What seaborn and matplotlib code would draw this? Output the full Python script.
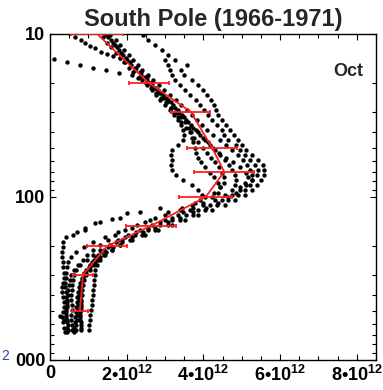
import numpy as np
import pandas as pd
import matplotlib
matplotlib.use("Agg")
import matplotlib.pyplot as plt
import seaborn as sns
from matplotlib.ticker import NullFormatter, MultipleLocator

nan = np.nan

# ---- data (ozone number density in units of 1e12, pressure in hPa) ----
levels_a = [10.1, 10.9, 11.7, 12.5, 13.5, 14.4, 15.5, 16.6, 17.8, 19.2,
            20.6, 22.1, 23.7, 25.4, 27.3, 29.3, 31.4, 33.7, 36.2, 38.8,
            41.7, 44.7, 48.0, 51.5, 55.3, 59.3, 63.6, 68.3, 73.3, 78.7,
            84.4, 90.6, 97.2, 104.3, 112, 120, 129, 138, 149, 159,
            171, 184, 197, 211, 227, 244, 261, 281, 301, 323,
            347, 372, 399, 428, 460, 493, 530, 568, 610, 655]
levels_b = [10.5, 11.3, 12.1, 13.0, 14.0, 14.9, 16.1, 17.2, 18.4, 19.9,
            21.3, 22.9, 24.6, 26.3, 28.3, 30.4, 32.5, 34.9, 37.5, 40.2,
            43.2, 46.3, 49.7, 53.4, 57.3, 61.4, 65.9, 70.8, 75.9, 81.5,
            87.4, 93.9, 100.7, 108.1, 116, 124, 134, 143, 154, 165,
            177, 190, 204, 219, 235, 252, 270, 291, 312, 335,
            359, 385, 413, 443, 476, 511, 548, 588, 632, 678]

sonde1 = [1.46, 1.59, 1.70, 1.80, 1.91, 2.01, 2.12, 2.22, 2.38, 2.53,
          2.66, 2.82, 2.95, 3.08, 3.21, 3.34, 3.45, 3.55, 3.68, 3.81,
          3.92, 4.05, 4.18, 4.31, 4.44, 4.57, 4.67, 4.75, 4.83, 4.86,
          4.83, 4.75, 4.57, 4.31, 3.99, 3.66, 3.34, 3.00, 2.66, 2.35,
          2.04, 1.78, 1.57, 1.41, 1.25, 1.15, 1.04, 0.94, 0.89, 0.84,
          0.81, 0.78, 0.76, 0.76, 0.73, 0.73, 0.70, 0.70, 0.68, 0.68]
sonde2 = [1.57, 1.72, 1.83, 1.93, 2.06, 2.17, 2.30, 2.40, 2.56, 2.69,
          2.85, 2.98, 3.13, 3.29, 3.42, 3.58, 3.71, 3.84, 3.97, 4.10,
          4.26, 4.44, 4.60, 4.75, 4.91, 5.04, 5.14, 5.22, 5.27, 5.27,
          5.22, 5.09, 4.91, 4.65, 4.36, 4.05, 3.73, 3.39, 3.08, 2.74,
          2.40, 2.09, 1.83, 1.62, 1.41, 1.25, 1.15, 1.04, 0.94, 0.89,
          0.86, 0.84, 0.84, 0.81, 0.81, 0.81, 0.78, 0.78, 0.81, 0.81]
sonde3 = [nan, nan, nan, nan, nan, nan, nan, nan, nan,
          2.40, 2.53, 2.66, 2.77, 2.87, 3.00, 3.13, 3.24, 3.34, 3.42,
          3.47, 3.50, 3.47, 3.34, 3.19, 3.16, 3.19, 3.16, 3.19, 3.29,
          3.47, 3.71, 3.86, 3.97, 3.92, 3.71, 3.39, 3.00, 2.61, 2.27,
          1.96, 1.70, 1.51, 1.31, 1.12, 0.97, 0.86, 0.73, 0.63, 0.55,
          0.52, 0.50, 0.47, 0.47, 0.44, 0.44, 0.42, 0.42, 0.44, 0.47,
          0.47]
sonde6 = [2.43, 2.56, 2.74, 2.92, 3.08, 3.26, 3.58, 3.42, 3.50, 3.71,
          3.86, 3.99, 4.10, 4.20, 4.28, 4.33, 4.39, 4.49, 4.60, 4.70,
          4.80, 4.91, 5.01, 5.12, 5.27, 5.43, 5.56, 5.59, 5.59, 5.51,
          5.40, 5.27, 5.09, 4.83, 4.57, 4.23, 3.86, 3.52, 3.19, 2.82,
          2.48, 2.14, 1.83, 1.62, 1.44, 1.31, 1.23, 1.17, 1.17, 1.15,
          1.15, 1.12, 1.12, 1.10, 1.10, 1.07, 1.04, 1.04, 1.02, 1.02]
sonde7 = [nan, nan, nan, nan, nan,
          3.00, 3.08, 3.13, 3.19, 3.26, 3.39, 3.52, 3.66, 3.81, 3.92,
          4.02, 4.13, 4.23, 4.36, 4.49, 4.54, 4.65, 4.86, 4.96, 5.09,
          5.22, 5.35, 5.43, 5.40, 5.27, 5.12, 4.96, 4.75, 4.49, 4.18,
          3.86, 3.55, 3.19, 2.87, 2.56, 2.22, 1.88, 1.57, 1.31, 1.12,
          0.97, 0.78, 0.68, 0.63, 0.60, 0.57, 0.57, 0.55, 0.55, 0.57,
          0.57, 0.55, 0.55, 0.57, 0.57]
sonde4 = [nan, nan, nan, nan, nan, nan,
          2.22, 2.38, 2.53, 2.64, 2.74, 2.85, 2.95, 3.06, 3.16, 3.24,
          3.34, 3.42, 3.55, 3.66, 3.76, 3.86, 3.99, 4.10, 4.20, 4.31,
          4.41, 4.49, 4.54, 4.54, 4.44, 4.28, 4.05, 3.79, 3.45, 3.08,
          2.74, 2.48, 2.14, 1.78, 1.44, 1.12, 0.89, 0.68, 0.55, 0.47,
          0.44, 0.42, 0.42, 0.39, 0.39, 0.42, 0.42, 0.44, 0.44, 0.42,
          0.42, 0.44, 0.44, 0.44]
sonde5 = [nan] * 34 + [2.87, 2.35, 1.83, 1.31, 0.91, 0.70, 0.42, 0.34, 0.34, 0.31,
                       0.31, 0.34, 0.34, 0.37, 0.37, 0.34, 0.31, 0.31, 0.34, 0.37,
                       0.37, 0.34, 0.31, 0.34, 0.37, 0.39]
sonde8 = [1.38, 1.49, 1.59, 1.72, 1.83, 1.93, 2.06, 2.17, 2.35, 2.51,
          2.64, 2.77, 2.90, 3.03, 3.16, 3.29, 3.42, 3.52, 3.63, 3.68,
          3.71, 3.73, 3.79, 3.81, 3.86, 3.94, 4.05, 4.18, 4.28, 4.39,
          4.44, 4.39, 4.23, 3.99, 3.73, 3.47, 3.19, 2.87, 2.56, 2.25,
          1.96, 1.72, 1.51, 1.33, 1.20, 1.10, 1.02, 0.89, 0.84, 0.81,
          0.81, 0.78, 0.78, 0.81, 0.81, 0.78, 0.78, 0.81, 0.81, nan]
sonde9 = [1.51, 1.64, 1.75, 1.86, 1.99, 2.09, 2.25, 2.35, 2.48, 2.61,
          2.74, 2.90, 3.03, 3.16, 3.26, 3.37, 3.50, 3.60, 3.73, 3.86,
          3.99, 4.13, 4.26, 4.41, 4.60, 4.78, 4.96, 5.12, 5.17, 5.09,
          4.96, 4.86, 4.65, 4.39, 4.07, 3.73, 3.39, 3.08, 2.74, 2.43,
          2.14, 1.88, 1.64, 1.46, 1.31, 1.17, 1.04, 0.94, 0.86, 0.78,
          0.76, 0.73, 0.70, 0.70, 0.68, 0.68, 0.65, 0.65, 0.63, 0.63]

extra_p = [14.2, 14.85, 15.5, 16.2, 16.6, 17.35, 17.85, 18.6,
           10.43, 10.9, 11.35, 11.85, 12.2, 12.9, 13.3, 13.65, 14.0, 14.85,
           537, 568,
           171, 159, 144, 136, 125]
extra_x = [0.10, 0.44, 0.78, 1.12, 1.46, 1.80, 2.14, 2.30,
           0.65, 0.81, 0.91, 1.04, 1.17, 1.33, 1.49, 1.64, 1.83, 1.96,
           0.26, 0.37,
           0.60, 0.91, 1.17, 1.62, 2.01]

mean_p = [10, 20, 30, 50, 70, 100, 150, 200, 300, 500]
mean_x = [1.23, 2.58, 3.67, 4.23, 4.54, 4.06, 2.64, 1.49, 0.86, 0.78]
mean_err = [0.67, 0.52, 0.51, 0.65, 0.79, 0.69, 0.65, 0.52, 0.27, 0.21]

x_ticks = [0, 2, 4, 6, 8]
x_ticklabels = ["0", "$\\mathbf{2\u202210^{12}}$", "$\\mathbf{4\u202210^{12}}$",
                "$\\mathbf{6\u202210^{12}}$", "$\\mathbf{8\u202210^{12}}$"]
y_ticks = [10, 100, 1000]
y_ticklabels = ["10", "100", "000"]

# ---- build table ----
rows = []
for lev, xs in [(levels_a, sonde1), (levels_a, sonde2), (levels_a, sonde3),
                (levels_a, sonde6), (levels_a, sonde7), (levels_b, sonde4),
                (levels_b, sonde5), (levels_b, sonde8), (levels_b, sonde9),
                (extra_p, extra_x)]:
    for p, x in zip(lev, xs):
        if not np.isnan(x):
            rows.append((x, p))
dots = pd.DataFrame(rows, columns=["o3", "p"])
mean_df = pd.DataFrame({"o3": mean_x, "p": mean_p})

# ---- style ----
sns.set_style("ticks")
plt.rcParams["font.family"] = ["Liberation Sans", "DejaVu Sans"]
plt.rcParams["font.weight"] = "bold"
plt.rcParams["mathtext.fontset"] = "custom"
plt.rcParams["mathtext.rm"] = "Liberation Sans:bold"
plt.rcParams["mathtext.bf"] = "Liberation Sans:bold"
plt.rcParams["mathtext.it"] = "Liberation Sans:bold"
plt.rcParams["mathtext.sf"] = "Liberation Sans:bold"

red = "#ff1f1f"
fig = plt.figure(figsize=(3.83, 3.90), dpi=100)
ax = fig.add_axes([50 / 383, 30 / 390, 326 / 383, 326 / 390])

sns.scatterplot(data=dots, x="o3", y="p", ax=ax, color="black", s=10,
                linewidth=0, legend=False, zorder=2)
sns.lineplot(data=mean_df, x="o3", y="p", sort=False, estimator=None,
             ax=ax, color=red, lw=1.3, zorder=3)
ax.errorbar(mean_x, mean_p, xerr=mean_err, fmt="none", ecolor=red,
            elinewidth=1.3, capsize=1.5, capthick=1.3, zorder=3)

ax.set_yscale("log")
ax.set_ylim(1000, 10)
ax.set_xlim(0, 8.5)
ax.set_xticks(x_ticks)
ax.set_xticklabels(x_ticklabels)
ax.xaxis.set_minor_locator(MultipleLocator(0.5))
ax.set_yticks(y_ticks)
ax.set_yticklabels(y_ticklabels)
ax.yaxis.set_minor_formatter(NullFormatter())
ax.set_xlabel("")
ax.set_ylabel("")

ax.tick_params(which="both", direction="in", top=True, right=True,
               width=0.8, colors="black")
ax.tick_params(which="major", length=4.5)
ax.tick_params(which="minor", length=3)
ax.tick_params(axis="both", labelsize=13, pad=3.5)
for lbl in ax.get_xticklabels() + ax.get_yticklabels():
    lbl.set_fontweight("bold")
for s in ax.spines.values():
    s.set_linewidth(1.0)
    s.set_color("black")

ax.set_title("South Pole (1966-1971)", fontsize=17, fontweight="bold", pad=6)
ax.text(0.96, 0.886, "Oct", transform=ax.transAxes, ha="right", va="center",
        fontsize=13, fontweight="bold")
fig.text(1 / 383, 1 - 356 / 390, "2", fontsize=10, color="#2b4a9a",
         ha="left", va="center", fontweight="normal")

fig.savefig("out.png", dpi=100)
